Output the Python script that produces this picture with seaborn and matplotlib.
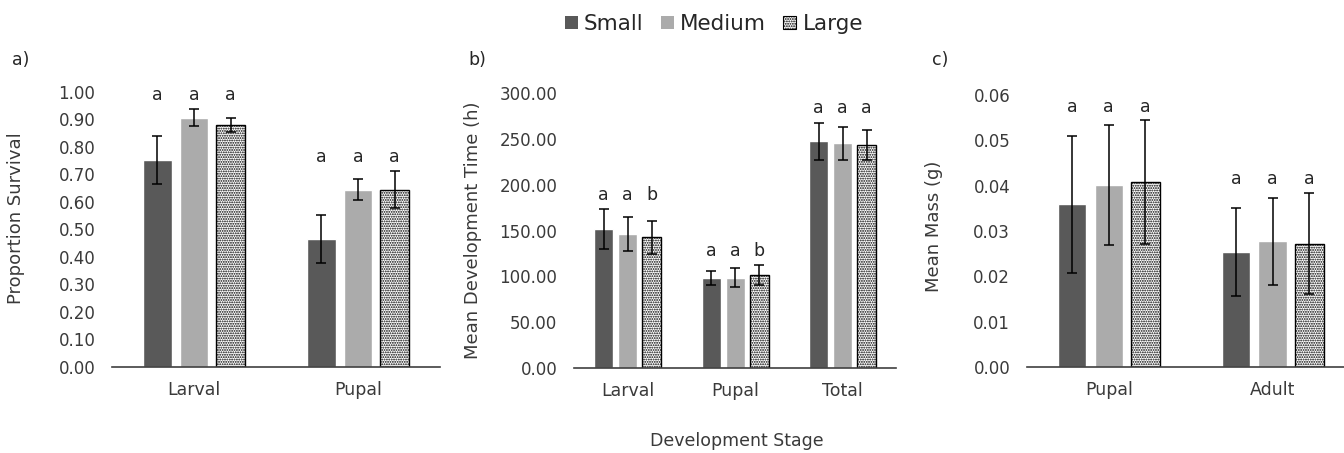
"""
Survival, development time and mass by container size (three bar panels).
"""
import numpy as np
import pandas as pd
import matplotlib
matplotlib.use("Agg")
import matplotlib.pyplot as plt
from matplotlib.patches import Patch
import seaborn as sns

# ---- data ----
sizes = ["Small", "Medium", "Large"]
size_colors = ["#595959", "#ABABAB", "#FFFFFF"]

# a) proportion survival
stages_a = ["Larval", "Pupal"]
surv_small = [0.753, 0.464]
surv_medium = [0.907, 0.645]
surv_large = [0.881, 0.644]
surv_err_small = [0.087, 0.087]
surv_err_medium = [0.030, 0.038]
surv_err_large = [0.026, 0.067]
surv_letters = [["a", "a", "a"], ["a", "a", "a"]]

# b) mean development time (h)
stages_b = ["Larval", "Pupal", "Total"]
dev_small = [151.5, 98.2, 247.6]
dev_medium = [146.3, 98.4, 245.2]
dev_large = [142.5, 101.5, 243.6]
dev_err_small = [21.9, 7.9, 20.5]
dev_err_medium = [18.5, 10.2, 17.7]
dev_err_large = [18.4, 11.0, 16.6]
dev_letters = [["a", "a", "b"], ["a", "a", "b"], ["a", "a", "a"]]

# c) mean mass (g)
stages_c = ["Pupal", "Adult"]
mass_small = [0.0359, 0.0254]
mass_medium = [0.0401, 0.0277]
mass_large = [0.0408, 0.0272]
mass_err_small = [0.0151, 0.0097]
mass_err_medium = [0.0132, 0.0096]
mass_err_large = [0.0136, 0.0112]
mass_letters = [["a", "a", "a"], ["a", "a", "a"]]

TEXT = "#3a3a3a"
HATCH = "......."


def draw_panel(ax, stages, values, errors, letters, ymax, step, ylabel, label_xy):
    df = pd.DataFrame({
        "stage": np.tile(stages, len(sizes)),
        "size": np.repeat(sizes, len(stages)),
        "value": np.concatenate(values),
    })
    sns.barplot(data=df, x="stage", y="value", hue="size", hue_order=sizes,
                order=stages, palette=size_colors, saturation=1, width=0.67,
                gap=0.22, errorbar=None, legend=False, ax=ax)

    tops = np.zeros((len(stages), len(sizes)))
    centers = np.zeros((len(stages), len(sizes)))
    for j, (container, errs) in enumerate(zip(ax.containers, errors)):
        for i, (bar, err) in enumerate(zip(container, errs)):
            if sizes[j] == "Large":
                bar.set_facecolor("white")
                bar.set_edgecolor("black")
                bar.set_hatch(HATCH)
                bar.set_linewidth(1.0)
            cx = bar.get_x() + bar.get_width() / 2
            h = bar.get_height()
            ax.errorbar(cx, h, yerr=err, color="black", elinewidth=1.1,
                        capsize=3.5, capthick=1.1, zorder=5)
            tops[i, j] = h + err
            centers[i, j] = cx

    # significance letters, one row per stage group
    for i in range(len(stages)):
        y = tops[i].max() + 0.033 * ymax
        for j in range(len(sizes)):
            ax.text(centers[i, j], y, letters[i][j], ha="center", va="baseline",
                    fontsize=12.5, color="#262626")

    ax.set_xlim(-0.5, len(stages) - 0.5)
    ax.set_ylim(0, ymax)
    ax.set_yticks(np.arange(0, ymax + step / 2, step))
    ax.yaxis.set_major_formatter(matplotlib.ticker.FormatStrFormatter("%.2f"))
    ax.tick_params(axis="both", length=0, labelsize=12, colors=TEXT)
    ax.tick_params(axis="y", pad=12)
    ax.tick_params(axis="x", pad=10, labelsize=12.5)
    ax.set_xlabel("")
    ax.set_ylabel(ylabel, fontsize=13, color=TEXT)
    ax.yaxis.set_label_coords(*label_xy)
    for side in ["left", "top", "right"]:
        ax.spines[side].set_visible(False)
    ax.spines["bottom"].set_color("#3f3f3f")
    ax.spines["bottom"].set_linewidth(1.2)


sns.set_theme(style="white")
plt.rcParams["font.family"] = ["DejaVu Sans"]
plt.rcParams["hatch.color"] = "black"
plt.rcParams["hatch.linewidth"] = 0.9

fig = plt.figure(figsize=(13.44, 4.53), dpi=100)
ax_a = fig.add_axes([0.0833, 0.190, 0.244, 0.607])
ax_b = fig.add_axes([0.427, 0.188, 0.240, 0.606])
ax_c = fig.add_axes([0.764, 0.190, 0.244, 0.600])

draw_panel(ax_a, stages_a, [surv_small, surv_medium, surv_large],
           [surv_err_small, surv_err_medium, surv_err_large], surv_letters,
           1.0, 0.1, "Proportion Survival", (-0.265, 0.54))
draw_panel(ax_b, stages_b, [dev_small, dev_medium, dev_large],
           [dev_err_small, dev_err_medium, dev_err_large], dev_letters,
           300, 50, "Mean Development Time (h)", (-0.286, 0.5))
draw_panel(ax_c, stages_c, [mass_small, mass_medium, mass_large],
           [mass_err_small, mass_err_medium, mass_err_large], mass_letters,
           0.06, 0.01, "Mean Mass (g)", (-0.255, 0.518))

# panel tags
for x, tag in [(12, "a)"), (468, "b)"), (932, "c)")]:
    fig.text(x / 1344, 1 - 60 / 453, tag, fontsize=12.5, color="#262626",
             ha="left", va="center")

fig.text(737 / 1344, 1 - 441 / 453, "Development Stage", fontsize=12.5,
         color=TEXT, ha="center", va="center")

handles = [
    Patch(facecolor=size_colors[0], edgecolor="none"),
    Patch(facecolor=size_colors[1], edgecolor="none"),
    Patch(facecolor="white", edgecolor="black", hatch=HATCH, linewidth=0.8),
]
fig.legend(handles, sizes, loc="center", bbox_to_anchor=(714 / 1344, 1 - 24 / 453),
           ncol=3, frameon=False, fontsize=15.5, handlelength=0.6,
           handleheight=0.6, handletextpad=0.3, columnspacing=0.8)

fig.savefig("out.png", dpi=100)
